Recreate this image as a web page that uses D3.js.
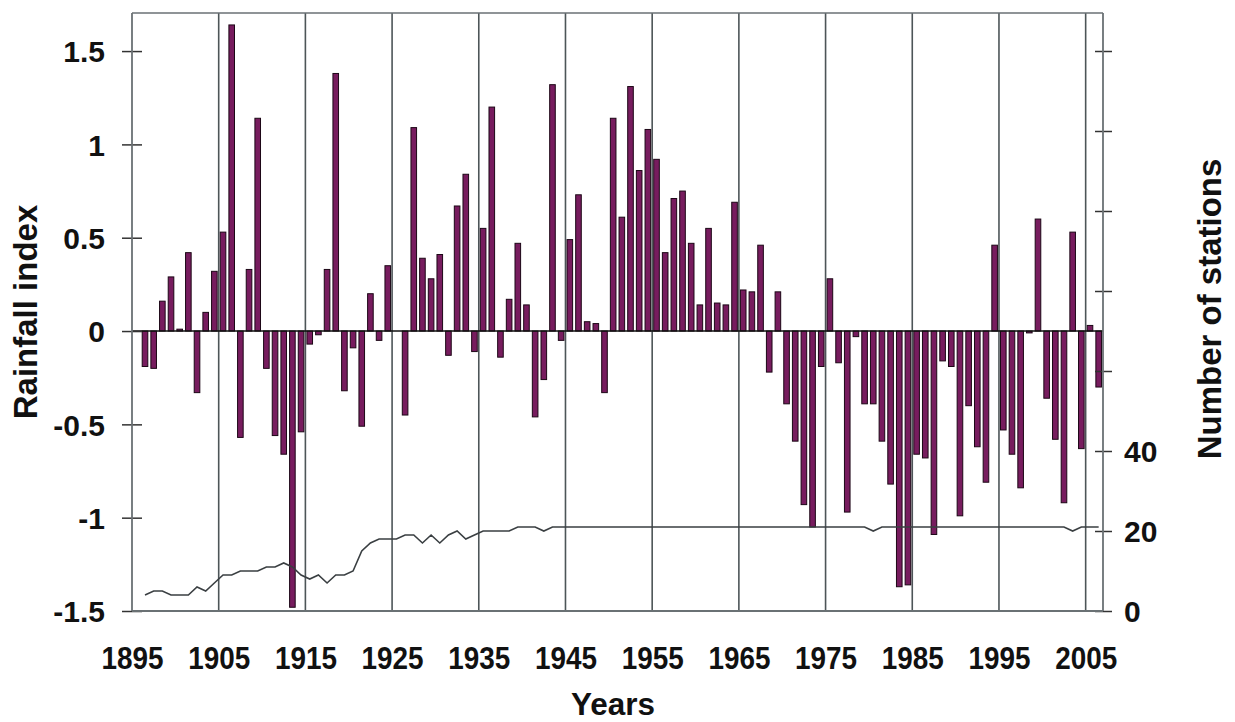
<!DOCTYPE html>
<html>
<head>
    <title>Rainfall index</title>
    <script src="https://d3js.org/d3.v7.min.js"></script>
    <style>
        body { margin: 0; background: #fff; }
        text { font-family: "Liberation Sans", Arial, sans-serif; font-weight: bold; fill: #111; }
    </style>
</head>
<body>
<script>
    // years 1896..2006, one bar per year
    var years = d3.range(1896, 2007);

    // rainfall index, one row per decade
    var rainfall = [
        -0.19, -0.20, 0.16, 0.29, 0.01, 0.42, -0.33, 0.10, 0.32,          // 1896-1904
        0.53, 1.64, -0.57, 0.33, 1.14, -0.20, -0.56, -0.66, -1.48, -0.54,  // 1905-1914
        -0.07, -0.02, 0.33, 1.38, -0.32, -0.09, -0.51, 0.20, -0.05, 0.35,  // 1915-1924
        0.00, -0.45, 1.09, 0.39, 0.28, 0.41, -0.13, 0.67, 0.84, -0.11,     // 1925-1934
        0.55, 1.20, -0.14, 0.17, 0.47, 0.14, -0.46, -0.26, 1.32, -0.05,    // 1935-1944
        0.49, 0.73, 0.05, 0.04, -0.33, 1.14, 0.61, 1.31, 0.86, 1.08,       // 1945-1954
        0.92, 0.42, 0.71, 0.75, 0.47, 0.14, 0.55, 0.15, 0.14, 0.69,        // 1955-1964
        0.22, 0.21, 0.46, -0.22, 0.21, -0.39, -0.59, -0.93, -1.05, -0.19,  // 1965-1974
        0.28, -0.17, -0.97, -0.03, -0.39, -0.39, -0.59, -0.82, -1.37, -1.36, // 1975-1984
        -0.66, -0.68, -1.09, -0.16, -0.19, -0.99, -0.40, -0.62, -0.81, 0.46, // 1985-1994
        -0.53, -0.66, -0.84, -0.01, 0.60, -0.36, -0.58, -0.92, 0.53, -0.63,  // 1995-2004
        0.03, -0.30                                                          // 2005-2006
    ];

    // number of stations
    var stations = [
        4, 5, 5, 4, 4, 4, 6, 5, 7,             // 1896-1904
        9, 9, 10, 10, 10, 11, 11, 12, 11, 9,   // 1905-1914
        8, 9, 7, 9, 9, 10, 15, 17, 18, 18,     // 1915-1924
        18, 19, 19, 17, 19, 17, 19, 20, 18, 19, // 1925-1934
        20, 20, 20, 20, 21, 21, 21, 20, 21, 21, // 1935-1944
        21, 21, 21, 21, 21, 21, 21, 21, 21, 21, // 1945-1954
        21, 21, 21, 21, 21, 21, 21, 21, 21, 21, // 1955-1964
        21, 21, 21, 21, 21, 21, 21, 21, 21, 21, // 1965-1974
        21, 21, 21, 21, 21, 20, 21, 21, 21, 21, // 1975-1984
        21, 21, 21, 21, 21, 21, 21, 21, 21, 21, // 1985-1994
        21, 21, 21, 21, 21, 21, 21, 21, 20, 21, // 1995-2004
        21, 21                                  // 2005-2006
    ];

    var yearTicks = d3.range(1895, 2006, 10);
    var rainTicks = [-1.5, -1, -0.5, 0, 0.5, 1, 1.5];
    var stationTicks = [0, 20, 40, 60, 80, 100, 120, 140];
    var stationLabels = [0, 20, 40];

    var w = 1235, h = 722;
    var padL = 132, padR = 1103, padT = 13, padB = 611;

    var x = d3.scaleLinear().domain([1895, 2007]).range([padL, padR]);
    var y = d3.scaleLinear().domain([-1.5, 1.704]).range([padB, padT]);
    var y2 = d3.scaleLinear().domain([0, 149.5]).range([padB, padT]);

    var svg = d3.select("body").append("svg")
        .attr("width", w)
        .attr("height", h);

    // vertical grid lines every 10 years
    svg.append("g")
        .selectAll("line")
        .data(yearTicks.slice(1))
        .enter()
        .append("line")
        .attr("x1", function (d) { return x(d); })
        .attr("x2", function (d) { return x(d); })
        .attr("y1", padT)
        .attr("y2", padB)
        .attr("stroke", "#4d5558")
        .attr("stroke-width", 1.6);

    // frame top
    svg.append("line")
        .attr("x1", padL).attr("x2", padR)
        .attr("y1", padT).attr("y2", padT)
        .attr("stroke", "#6a7174").attr("stroke-width", 1.5);

    // bars
    var bw = 5.6;
    svg.append("g")
        .selectAll("rect")
        .data(years)
        .enter()
        .append("rect")
        .attr("x", function (d) { return x(d + 0.5) - bw / 2; })
        .attr("width", bw)
        .attr("y", function (d, i) { return y(Math.max(0, rainfall[i])); })
        .attr("height", function (d, i) { return Math.abs(y(rainfall[i]) - y(0)); })
        .attr("fill", "#771c5e")
        .attr("stroke", "#1c0716")
        .attr("stroke-width", 1);

    // zero line
    svg.append("line")
        .attr("x1", padL).attr("x2", padR)
        .attr("y1", y(0)).attr("y2", y(0))
        .attr("stroke", "#111").attr("stroke-width", 1.5);

    // number of stations line
    var line = d3.line()
        .x(function (d) { return x(d + 0.5); })
        .y(function (d, i) { return y2(stations[i]); });

    svg.append("path")
        .datum(years)
        .attr("d", line)
        .attr("fill", "none")
        .attr("stroke", "#3a3f42")
        .attr("stroke-width", 1.6);

    // left axis
    var yAxis = svg.append("g")
        .attr("transform", "translate(" + padL + ",0)")
        .call(d3.axisLeft(y).tickValues(rainTicks).tickSize(10)
            .tickFormat(function (d) { return d; }));
    yAxis.select(".domain").remove();
    yAxis.selectAll(".tick line").attr("x2", 10).attr("x1", -10).attr("stroke", "#333").attr("stroke-width", 1.5);
    yAxis.selectAll(".tick text").style("font-size", "30px").attr("x", -27).attr("dy", "0.36em");
    svg.append("line")
        .attr("x1", padL).attr("x2", padL).attr("y1", padT).attr("y2", padB)
        .attr("stroke", "#6a7174").attr("stroke-width", 1.8);

    // right axis
    var yAxis2 = svg.append("g")
        .attr("transform", "translate(" + padR + ",0)")
        .call(d3.axisRight(y2).tickValues(stationTicks).tickSize(9)
            .tickFormat(function (d) { return stationLabels.indexOf(d) >= 0 ? d : ""; }));
    yAxis2.select(".domain").remove();
    yAxis2.selectAll(".tick line").attr("x1", -8).attr("x2", 9).attr("stroke", "#333").attr("stroke-width", 1.5);
    yAxis2.selectAll(".tick text").style("font-size", "30px").attr("x", 21).attr("dy", "0.36em");
    svg.append("line")
        .attr("x1", padR).attr("x2", padR).attr("y1", padT).attr("y2", padB)
        .attr("stroke", "#6a7174").attr("stroke-width", 1.8);

    // bottom axis (labels a bit condensed, like the original)
    var xAxis = svg.append("g")
        .attr("transform", "translate(0," + padB + ")")
        .call(d3.axisBottom(x).tickValues(yearTicks).tickSize(0).tickPadding(0)
            .tickFormat(function (d) { return d; }));
    xAxis.select(".domain").remove();
    xAxis.selectAll(".tick text").style("font-size", "32px")
        .attr("textLength", 62).attr("lengthAdjust", "spacingAndGlyphs")
        .attr("dy", null).attr("y", 58);
    svg.append("line")
        .attr("x1", padL).attr("x2", padR).attr("y1", padB).attr("y2", padB)
        .attr("stroke", "#6a7174").attr("stroke-width", 1.8);

    // axis titles
    svg.append("text")
        .attr("x", 613).attr("y", 715)
        .attr("text-anchor", "middle")
        .style("font-size", "32px")
        .attr("textLength", 84).attr("lengthAdjust", "spacingAndGlyphs")
        .text("Years");

    svg.append("text")
        .attr("transform", "translate(37,312) rotate(-90)")
        .attr("text-anchor", "middle")
        .style("font-size", "33px")
        .text("Rainfall index");

    svg.append("text")
        .attr("transform", "translate(1221,309) rotate(-90)")
        .attr("text-anchor", "middle")
        .style("font-size", "33px")
        .text("Number of stations");
</script>
</body>
</html>
